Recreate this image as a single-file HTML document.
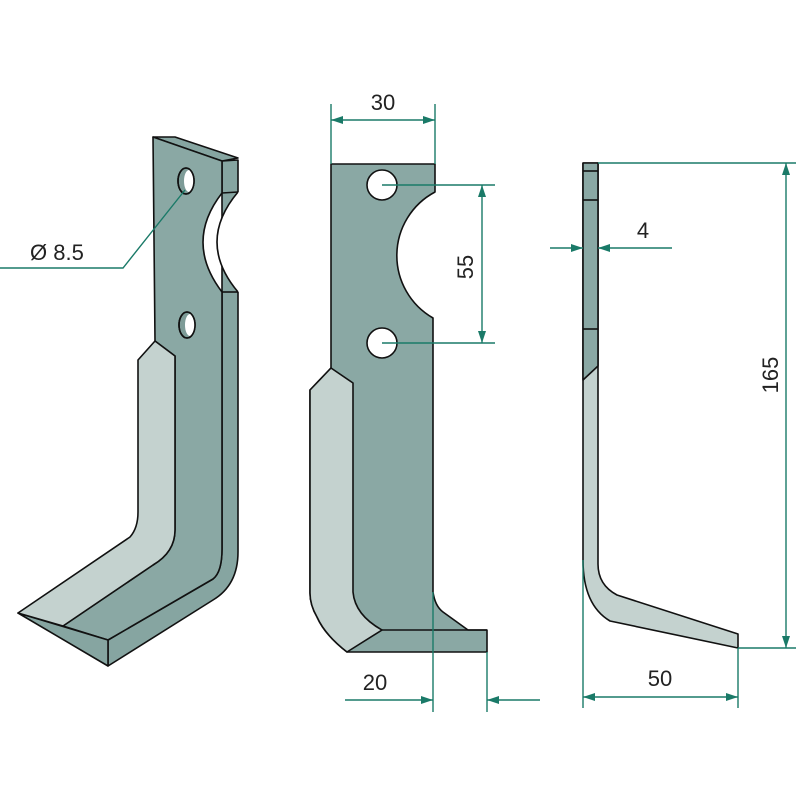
<!DOCTYPE html>
<html><head><meta charset="utf-8"><style>html,body{margin:0;padding:0;background:#fff}svg{display:block}</style></head><body>
<svg width="800" height="800" viewBox="0 0 800 800" xmlns="http://www.w3.org/2000/svg">
<defs>
<marker id="a" viewBox="0 0 12 8" refX="12" refY="4" markerWidth="12" markerHeight="8" markerUnits="userSpaceOnUse" orient="auto-start-reverse"><path d="M0,0 L12,4 L0,8 z" fill="#1a7a68"/></marker>
</defs>
<g stroke="#111" stroke-width="1.6" stroke-linejoin="round">
<path d="M222,161 L238,160 L238,552 Q238,585 213,600 L108,666 L108,640 L213,579 Q222,572 222,549 Z" fill="#86a5a1"/>
<path d="M153,137 L175,137 L238,158 L222,161 Z" fill="#86a5a1"/>
<path d="M153,137 L222,161 L222,193 Q184,242 222,292 L222,549 Q222,572 213,579 L108,640 L63,626 L153,565 Q175,552 175,530 L175,356 L155,341 Z" fill="#8aa8a4"/>
<path d="M238,192 Q196,242 238,292 L240,292 L240,192 Z" fill="#fff" stroke="none"/>
<path d="M238,192 Q196,242 238,292" fill="none"/>
<line x1="222" y1="193" x2="238" y2="192"/>
<line x1="222" y1="292" x2="238" y2="292"/>
<path d="M18,613 L108,640 L108,666 Z" fill="#86a5a1"/>
<path d="M155,341 L175,356 L175,530 Q175,552 153,565 L63,626 L18,613 L130,537 Q138,528 138,512 L138,360 Z" fill="#c4d2cf"/>
<ellipse cx="186" cy="181" rx="8" ry="13" fill="#7d9b97"/>
<ellipse cx="189" cy="181" rx="5" ry="11" fill="#fff" stroke="none"/>
<ellipse cx="186" cy="181" rx="8" ry="13" fill="none"/>
<ellipse cx="187" cy="325" rx="8" ry="13" fill="#7d9b97"/>
<ellipse cx="190" cy="325" rx="5" ry="11" fill="#fff" stroke="none"/>
<ellipse cx="187" cy="325" rx="8" ry="13" fill="none"/>

<path d="M331,164 L435,164 L435,192 A72,72 0 0 0 433,318 L433,592 Q435,606 443,612 L468,630 L487,630 L487,652 L347,652 Q325,635 317,617 Q310,605 310,593 L310,390 L331,368 Z" fill="#8aa8a4"/>
<path d="M331,368 L353,383 L353,592 Q355,615 382,630 L347,652 Q325,635 317,617 Q310,605 310,593 L310,390 Z" fill="#c4d2cf"/>
<line x1="382" y1="630" x2="487" y2="630"/>
<circle cx="382" cy="185" r="15" fill="#fff"/>
<circle cx="382" cy="343" r="15" fill="#fff"/>

<path d="M583,163 L598,163 L598,564 Q598,585 617,595 L738,634 L738,648 L610,621 Q583,605 583,560 Z" fill="#c4d2cf"/>
<path d="M583,163 L598,163 L598,366 L583,380 Z" fill="#8aa8a4"/>
<line x1="583" y1="171" x2="598" y2="171"/>
<line x1="583" y1="200" x2="598" y2="200"/>
<line x1="583" y1="329" x2="598" y2="329"/>
</g>

<g stroke="#1a7a68" stroke-width="1.4" fill="none">
<polyline points="0,268 123,268 185,190"/>
<line x1="331" y1="104" x2="331" y2="164"/>
<line x1="435" y1="104" x2="435" y2="164"/>
<line x1="331" y1="120" x2="435" y2="120" marker-start="url(#a)" marker-end="url(#a)"/>
<line x1="382" y1="185" x2="495" y2="185"/>
<line x1="382" y1="343" x2="495" y2="343"/>
<line x1="482" y1="185" x2="482" y2="343" marker-start="url(#a)" marker-end="url(#a)"/>
<line x1="433" y1="592" x2="433" y2="712"/>
<line x1="487" y1="652" x2="487" y2="712"/>
<line x1="345" y1="700" x2="433" y2="700" marker-end="url(#a)"/>
<line x1="540" y1="700" x2="487" y2="700" marker-end="url(#a)"/>
<line x1="550" y1="248" x2="583" y2="248" marker-end="url(#a)"/>
<line x1="672" y1="248" x2="598" y2="248" marker-end="url(#a)"/>
<line x1="598" y1="163" x2="796" y2="163"/>
<line x1="738" y1="648" x2="796" y2="648"/>
<line x1="786" y1="163" x2="786" y2="648" marker-start="url(#a)" marker-end="url(#a)"/>
<line x1="583" y1="560" x2="583" y2="708"/>
<line x1="738" y1="648" x2="738" y2="708"/>
<line x1="583" y1="697" x2="738" y2="697" marker-start="url(#a)" marker-end="url(#a)"/>
</g>
<g font-family="'Liberation Sans', 'DejaVu Sans', sans-serif" font-size="22" fill="#222">
<text x="30" y="260">Ø 8.5</text>
<text x="383" y="110" text-anchor="middle">30</text>
<text x="473" y="267" text-anchor="middle" transform="rotate(-90 473 267)">55</text>
<text x="375" y="690" text-anchor="middle">20</text>
<text x="643" y="238" text-anchor="middle">4</text>
<text x="778" y="375" text-anchor="middle" transform="rotate(-90 778 375)">165</text>
<text x="660" y="686" text-anchor="middle">50</text>
</g>
</svg>
</body></html>
